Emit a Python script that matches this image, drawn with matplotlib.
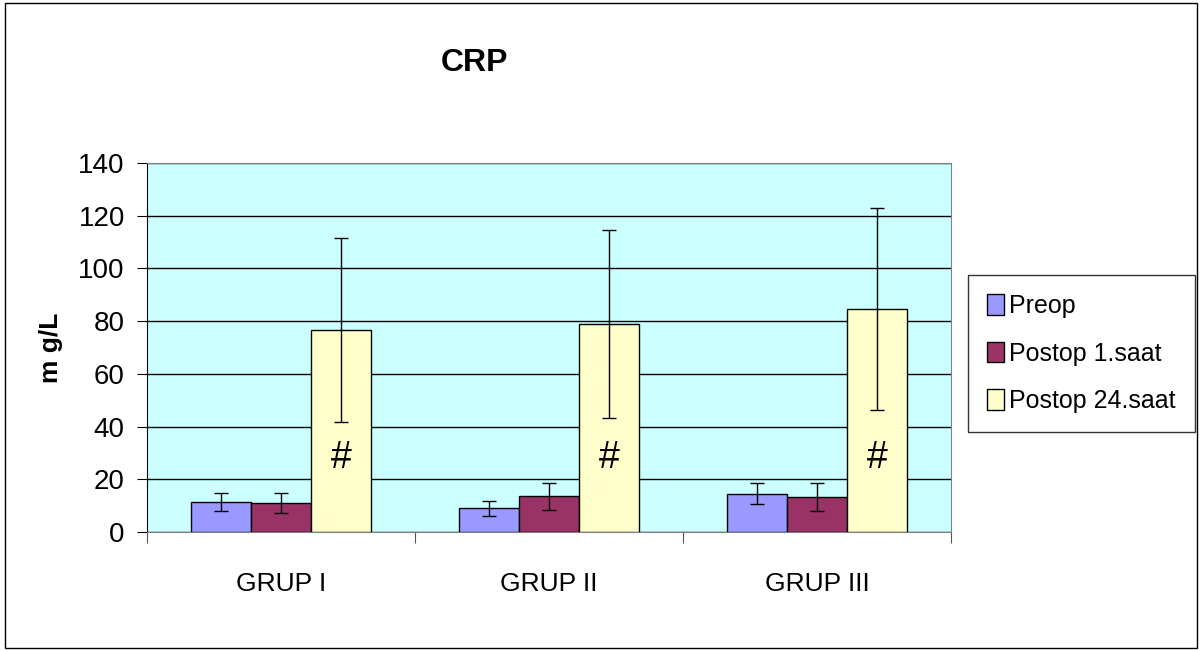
import numpy as np
import matplotlib
matplotlib.use("Agg")
import matplotlib.pyplot as plt
from matplotlib.patches import Rectangle

plt.rcParams['font.family'] = ['Liberation Sans', 'DejaVu Sans']

# Daten
groups = ["GRUP I", "GRUP II", "GRUP III"]
series = ["Preop", "Postop 1.saat", "Postop 24.saat"]
preop = [11.3, 9.0, 14.5]
postop1 = [11.0, 13.5, 13.3]
postop24 = [76.6, 78.9, 84.6]
preop_err = [3.4, 2.9, 4.0]
postop1_err = [3.9, 5.2, 5.2]
postop24_err = [35.0, 35.5, 38.5]
marks = ["#", "#", "#"]

colors = ["#9999FF", "#993366", "#FFFFCC"]

fig = plt.figure(figsize=(12.01, 6.5), dpi=100)
ax = fig.add_axes([147 / 1201, 1 - 532 / 650, (951 - 147) / 1201, (532 - 163) / 650])
ax.set_facecolor("#CCFFFF")

x = np.arange(len(groups)) + 0.5
w = 0.225
values = [preop, postop1, postop24]
errs = [preop_err, postop1_err, postop24_err]
for i, (vals, err) in enumerate(zip(values, errs)):
    pos = x + (i - 1) * w
    ax.bar(pos, vals, width=w, color=colors[i], edgecolor="black", linewidth=1,
           label=series[i], zorder=3)
    ax.errorbar(pos, vals, yerr=err, fmt="none", ecolor="black", elinewidth=1,
                capsize=5, capthick=1, zorder=4)

# Markierung im 24h-Balken
for xi, m in zip(x + w, marks):
    ax.text(xi, 28, m, ha="center", va="center", fontsize=27, zorder=5)

ax.set_xlim(0, 3)
ax.set_ylim(0, 140)
ax.set_yticks(np.arange(0, 141, 20))
ax.yaxis.grid(True, color="black", linewidth=1, zorder=1)
ax.set_axisbelow(True)

ax.set_xticks([0, 1, 2, 3])
ax.set_xticklabels([])
ax.set_xticks(x, minor=True)
ax.set_xticklabels(groups, minor=True, fontsize=19)
ax.tick_params(axis="x", which="minor", length=0, pad=29)
ax.tick_params(axis="x", which="major", length=8, direction="out", color="#555555")
ax.tick_params(axis="y", labelsize=20, length=7, pad=9, direction="out")

for side in ["top", "right"]:
    ax.spines[side].set_color("#808080")
ax.spines["left"].set_color("black")
ax.spines["bottom"].set_color("#808080")

ax.set_ylabel("m g/L", fontsize=19, fontweight="bold", labelpad=11)
fig.text(475 / 1201, 1 - 63 / 650, "CRP", ha="center", va="center",
         fontsize=23, fontweight="bold")

leg = ax.legend(loc="upper left", bbox_to_anchor=(968 / 1201, 1 - 275 / 650),
                bbox_transform=fig.transFigure, fontsize=18, frameon=True,
                fancybox=False, edgecolor="black", handlelength=0.7,
                handleheight=0.9, handletextpad=0.2, labelspacing=0.95,
                borderpad=0.75, borderaxespad=0)
leg.get_frame().set_linewidth(1)

# Rahmen um die Grafik
fig.patches.append(Rectangle((0.004, 0.003), 0.993, 0.993, transform=fig.transFigure,
                             fill=False, edgecolor="black", linewidth=1))

fig.savefig("out.png", dpi=100)
